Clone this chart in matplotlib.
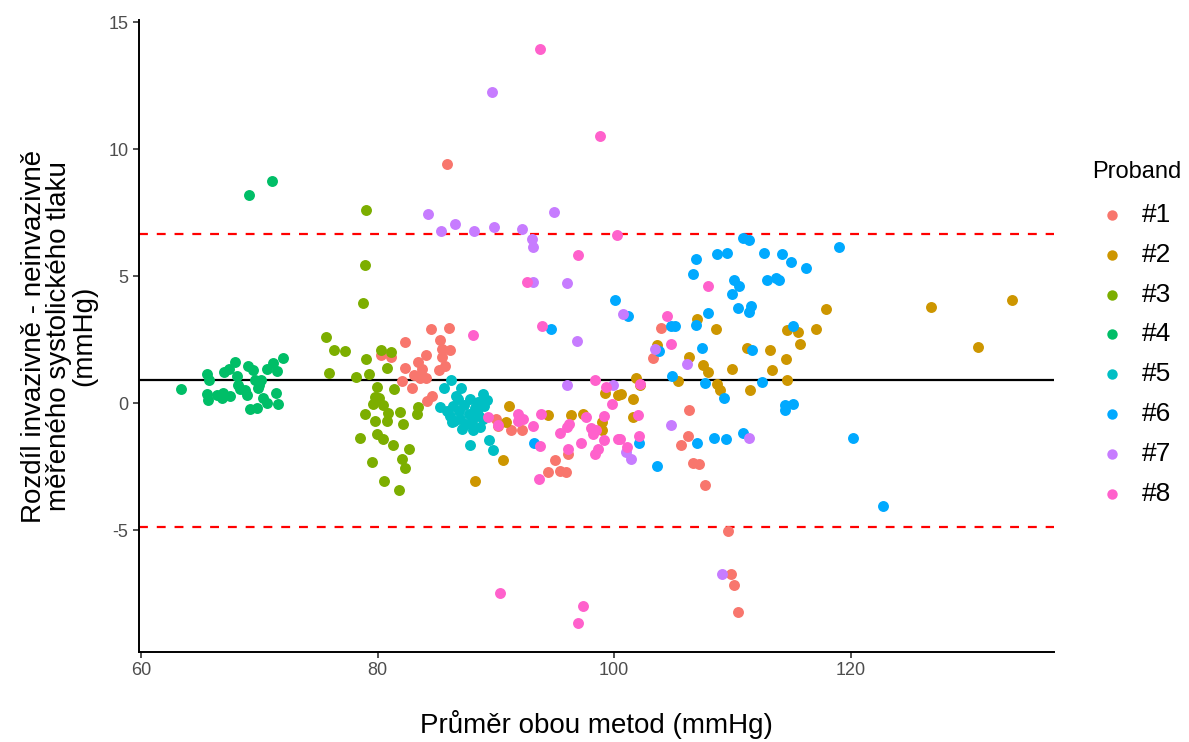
import matplotlib
matplotlib.use("Agg")
import matplotlib.pyplot as plt
import numpy as np

plt.rcParams['font.family'] = ['Liberation Sans', 'DejaVu Sans']
plt.rcParams['axes.unicode_minus'] = False

# Bland-Altman data: (mean of methods, difference)
p1_x = [85.84, 84.51, 86.01, 82.34, 85.27, 86.12, 81.10, 84.09, 85.41, 85.41, 83.38, 83.72,
        82.32, 85.70, 85.19, 83.10, 83.58, 84.09, 82.03, 82.88, 84.64, 84.14, 90.05, 91.28,
        92.18, 90.20, 95.00, 94.37, 95.42, 95.90, 96.11, 106.32, 106.21, 105.62, 106.63,
        107.19, 107.70, 109.64, 109.90, 110.15, 110.44, 104.00, 103.30, 80.30]
p1_y = [9.41, 2.94, 2.97, 2.41, 2.48, 2.11, 1.82, 1.92, 2.15, 1.82, 1.63, 1.36,
        1.39, 1.48, 1.33, 1.10, 1.01, 1.01, 0.88, 0.62, 0.28, 0.09, -0.60, -1.06,
        -1.06, -0.90, -2.22, -2.70, -2.66, -2.70, -1.98, -0.28, -1.30, -1.63, -2.33,
        -2.37, -3.21, -5.03, -6.71, -7.13, -8.22, 2.98, 1.80, 1.90]

p2_x = [91.13, 94.43, 96.35, 97.34, 99.22, 100.35, 90.90, 99.00, 99.00, 90.57, 88.26,
        117.87, 117.06, 115.70, 114.58, 115.56, 114.49, 114.58, 113.33, 113.16, 111.20,
        109.95, 111.48, 108.94, 108.66, 108.63, 106.97, 106.32, 107.53, 107.90, 105.37,
        103.59, 101.84, 102.18, 100.55, 101.56, 101.62, 126.78, 133.63, 130.78]
p2_y = [-0.12, -0.47, -0.47, -0.43, 0.41, 0.31, -0.74, -0.74, -1.04, -2.24, -3.07,
        3.73, 2.94, 2.35, 2.87, 2.81, 1.76, 0.91, 1.30, 2.09, 2.18,
        1.37, 0.51, 0.51, 0.78, 2.91, 3.31, 1.82, 1.50, 1.23, 0.88,
        2.28, 1.01, 0.71, 0.35, 0.19, -0.54, 3.79, 4.06, 2.22]

p3_x = [75.61, 75.86, 76.31, 77.27, 78.20, 78.74, 78.96, 79.05, 79.05, 79.25, 80.26, 81.16,
        80.82, 79.92, 81.39, 79.78, 79.64, 80.10, 80.50, 83.44, 83.30, 81.90, 80.90, 78.94,
        79.78, 80.76, 82.17, 79.92, 80.43, 78.51, 81.27, 82.65, 79.50, 82.03, 82.29, 80.57,
        81.84]
p3_y = [2.61, 1.21, 2.11, 2.05, 1.02, 3.95, 5.46, 7.59, 1.76, 1.17, 2.09, 2.04,
        1.39, 0.64, 0.58, 0.25, -0.01, 0.20, -0.05, -0.15, -0.41, -0.34, -0.38, -0.43,
        -0.71, -0.70, -0.80, -1.19, -1.39, -1.36, -1.65, -1.81, -2.31, -2.18, -2.55, -3.06,
        -3.40]

p4_x = [69.13, 71.05, 63.35, 65.55, 65.78, 67.04, 67.44, 67.95, 68.14, 68.23, 69.07, 69.44,
        69.64, 70.14, 69.92, 70.62, 71.18, 71.47, 72.03, 65.55, 65.69, 66.40, 66.96, 66.82,
        67.52, 68.37, 68.79, 68.99, 69.21, 69.78, 70.34, 70.62, 71.38, 71.61, 70.00]
p4_y = [8.19, 8.75, 0.58, 1.17, 0.90, 1.23, 1.36, 1.63, 1.06, 0.71, 1.46, 1.33,
        0.90, 0.90, 0.62, 1.36, 1.59, 1.26, 1.80, 0.38, 0.12, 0.31, 0.42, 0.22,
        0.29, 0.58, 0.51, 0.31, -0.21, -0.17, 0.22, 0.01, 0.42, -0.01, 0.71]

p5_x = [86.18, 85.62, 87.05, 85.27, 86.83, 87.81, 88.94, 89.22, 86.40, 86.90, 87.30, 87.70,
        88.20, 88.60, 86.10, 86.50, 87.00, 87.50, 88.00, 88.40, 88.90, 86.26, 87.10, 88.10,
        88.66, 87.81, 89.42, 89.73, 85.90, 89.00, 86.60, 88.50]
p5_y = [0.90, 0.60, 0.62, -0.15, 0.19, 0.19, 0.35, 0.12, -0.10, -0.30, -0.05, -0.40,
        -0.20, -0.50, -0.50, -0.70, -0.60, -0.80, -0.70, -0.30, -0.60, -0.74, -1.00, -1.06,
        -0.93, -1.65, -1.46, -1.85, -0.30, -0.10, 0.30, 0.05]

p6_x = [100.07, 94.66, 93.25, 101.19, 106.92, 106.63, 108.66, 109.56, 110.91, 111.42, 112.66,
        114.16, 114.94, 116.21, 119.03, 110.15, 110.57, 109.95, 112.89, 113.64, 113.96,
        110.49, 111.39, 111.56, 107.95, 106.89, 104.80, 105.14, 103.81, 107.42, 111.68,
        115.09, 104.91, 107.68, 112.46, 109.28, 114.44, 115.09, 114.44, 102.12, 103.59,
        106.97, 108.46, 109.48, 110.86, 120.16, 122.75]
p6_y = [4.08, 2.91, -1.56, 3.43, 5.67, 5.08, 5.87, 5.92, 6.52, 6.44, 5.93,
        5.89, 5.56, 5.33, 6.15, 4.84, 4.61, 4.32, 4.84, 4.95, 4.84,
        3.75, 3.59, 3.83, 3.57, 3.07, 3.04, 3.03, 2.05, 2.18, 2.11,
        3.03, 1.09, 0.80, 0.83, 0.22, -0.08, -0.04, -0.25, -1.56, -2.47,
        -1.56, -1.37, -1.39, -1.17, -1.37, -4.04]

p7_x = [89.65, 84.29, 85.36, 86.54, 88.18, 89.84, 92.18, 93.03, 93.16, 94.94, 93.11, 96.01,
        96.83, 96.01, 100.71, 103.45, 106.13, 99.86, 104.77, 100.99, 101.39, 111.36, 109.11]
p7_y = [12.24, 7.43, 6.78, 7.07, 6.78, 6.92, 6.85, 6.46, 6.15, 7.53, 4.78, 4.74,
        2.45, 0.74, 3.50, 2.13, 1.56, 0.74, -0.87, -1.92, -2.18, -1.37, -6.71]

p8_x = [93.69, 98.83, 96.97, 92.60, 93.92, 88.09, 98.40, 99.28, 100.21, 107.90, 104.43,
        104.77, 102.18, 99.79, 102.04, 89.36, 90.20, 91.89, 92.31, 91.89, 93.16, 93.82,
        93.73, 93.62, 95.42, 95.98, 96.21, 96.11, 97.16, 97.66, 98.08, 98.22, 98.50,
        99.16, 99.16, 98.38, 98.60, 100.35, 90.35, 97.38, 96.97, 100.49, 101.05, 102.10]
p8_y = [13.95, 10.51, 5.85, 4.78, 3.04, 2.68, 0.93, 0.64, 6.64, 4.61, 3.43,
        2.35, 0.78, -0.01, -0.45, -0.54, -0.87, -0.41, -0.63, -0.70, -0.89, -0.41,
        -1.68, -2.98, -1.15, -0.93, -0.83, -1.78, -1.55, -0.54, -0.96, -1.19, -1.06,
        -0.51, -1.43, -1.98, -1.78, -1.39, -7.47, -7.99, -8.65, -1.39, -1.72, -1.30]

labels = ["#1", "#2", "#3", "#4", "#5", "#6", "#7", "#8"]
colors = ["#F8766D", "#CD9600", "#7CAE00", "#00BE67", "#00BFC4", "#00A9FF", "#C77CFF", "#FF61CC"]
xs = [p1_x, p2_x, p3_x, p4_x, p5_x, p6_x, p7_x, p8_x]
ys = [p1_y, p2_y, p3_y, p4_y, p5_y, p6_y, p7_y, p8_y]

mean_diff = 0.9
loa_upper = 6.65
loa_lower = -4.86

W, H = 1189, 742
fig = plt.figure(figsize=(W / 100, H / 100), dpi=100)
ax = fig.add_axes([139 / W, 1 - 652 / H, 914.6 / W, 632 / H])

for x, y, c in zip(xs, ys, colors):
    ax.scatter(x, y, s=62, color=c, linewidths=0, zorder=3)

ax.axhline(mean_diff, color="black", lw=1.6, zorder=2)
ax.axhline(loa_upper, color="red", lw=1.6, ls=(0, (4, 4)), zorder=2)
ax.axhline(loa_lower, color="red", lw=1.6, ls=(0, (4, 4)), zorder=2)

ax.set_xlim(59.84, 137.14)
ax.set_ylim(-9.78, 15.08)
ax.set_xticks([60, 80, 100, 120])
ax.set_yticks([-5, 0, 5, 10, 15])
for s in ["top", "right"]:
    ax.spines[s].set_visible(False)
for s in ["left", "bottom"]:
    ax.spines[s].set_linewidth(1.4)
ax.tick_params(labelsize=13, labelcolor="#4D4D4D", color="#333333", length=4, width=1.2)

ax.set_xlabel("Průměr obou metod (mmHg)", fontsize=20, labelpad=22)
ax.set_ylabel("Rozdíl invazivně - neinvazivně\nměřeného systolického tlaku\n(mmHg)",
              fontsize=20, labelpad=8, linespacing=0.95)

# legend drawn by hand so it sits where ggplot put it
fig.text(1092 / W, 1 - 172 / H, "Proband", fontsize=17, ha="left", va="center")
for i, (c, lab) in enumerate(zip(colors, labels)):
    yy = 1 - (215 + 39.8 * i) / H
    fig.add_artist(plt.Line2D([1112 / W], [yy], marker="o", ms=7.5, color=c,
                              markeredgewidth=0, linestyle="none"))
    fig.text(1142 / W, yy, lab, fontsize=19, ha="left", va="center")

fig.savefig("out.png", dpi=100)
